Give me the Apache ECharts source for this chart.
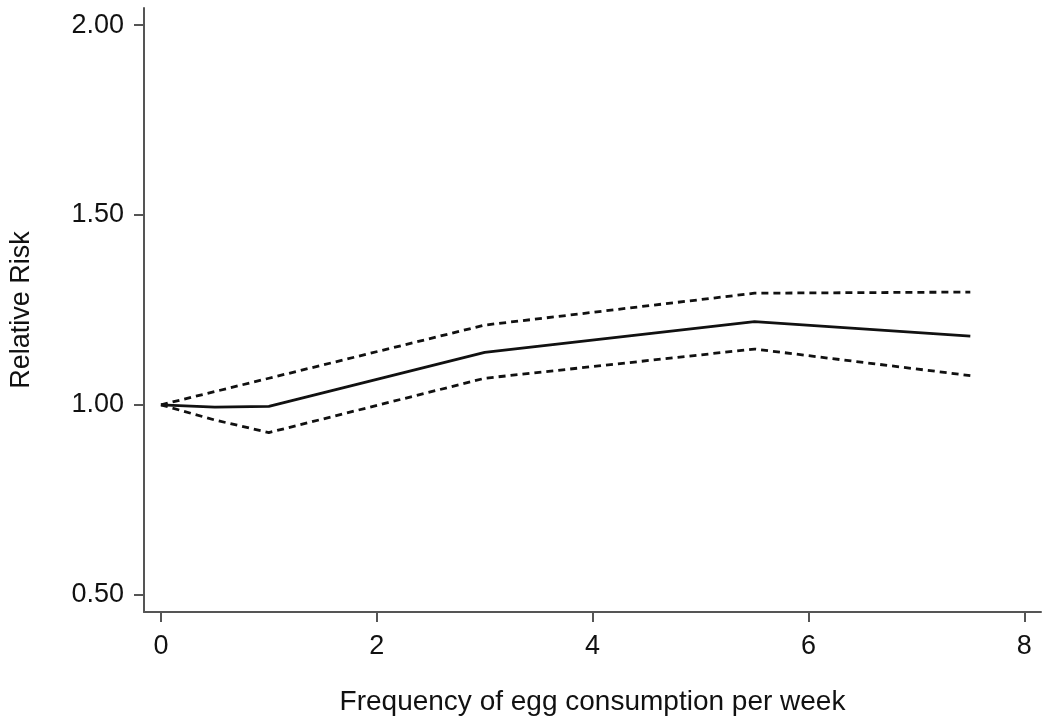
<!DOCTYPE html>
<html>
<head>
<meta charset="utf-8">
<script src="https://cdn.jsdelivr.net/npm/echarts@6/dist/echarts.min.js"></script>
<style>
  html, body { margin: 0; padding: 0; background: #fff; }
  #chart { width: 1050px; height: 724px; }
</style>
</head>
<body>
<div id="chart"></div>
<script>
// egg consumption (times/week) and relative risk with 95% CI
var eggsPerWeek = [0, 0.5, 1, 3, 5.5, 7.5];
var rrMain  = [1.00, 0.994, 0.996, 1.138, 1.219, 1.181];
var rrUpper = [1.00, 1.035, 1.070, 1.210, 1.294, 1.297];
var rrLower = [1.00, 0.960, 0.927, 1.070, 1.147, 1.077];

var xTicks = [0, 2, 4, 6, 8];
var yTicks = [0.5, 1.0, 1.5, 2.0];

function pairs(ys) {
    var out = [];
    for (var i = 0; i < eggsPerWeek.length; i++) {
        out.push([eggsPerWeek[i], ys[i]]);
    }
    return out;
}

var font = 'Liberation Sans, Arial, sans-serif';
var axisColor = '#555';

var myChart = echarts.init(document.getElementById('chart'));

var option = {
    animation: false,
    backgroundColor: '#fff',
    grid: { left: 143, right: 9, top: 8, bottom: 112 },
    xAxis: {
        type: 'value',
        min: -0.157,
        max: 8.155,
        name: 'Frequency of egg consumption per week',
        nameLocation: 'middle',
        nameGap: 76,
        nameTextStyle: { color: '#111', fontSize: 28, fontFamily: font },
        axisLine: { show: true, onZero: false, lineStyle: { color: axisColor, width: 2 } },
        axisTick: { show: true, inside: false, length: 10, customValues: xTicks, lineStyle: { color: axisColor, width: 2 } },
        axisLabel: { customValues: xTicks, margin: 21, color: '#111', fontSize: 27, fontFamily: font },
        splitLine: { show: false }
    },
    yAxis: {
        type: 'value',
        min: 0.4545,
        max: 2.045,
        name: 'Relative Risk',
        nameLocation: 'middle',
        nameGap: 109,
        nameTextStyle: { color: '#111', fontSize: 27, fontFamily: font },
        axisLine: { show: true, onZero: false, lineStyle: { color: axisColor, width: 2 } },
        axisTick: { show: true, inside: false, length: 10, customValues: yTicks, lineStyle: { color: axisColor, width: 2 } },
        axisLabel: {
            customValues: yTicks,
            margin: 20,
            color: '#111',
            fontSize: 27,
            fontFamily: font,
            formatter: function (v) { return v.toFixed(2); }
        },
        splitLine: { show: false }
    },
    series: [
        {
            type: 'line',
            data: pairs(rrUpper),
            showSymbol: false,
            lineStyle: { color: '#111', width: 2.8, type: [7, 5] }
        },
        {
            type: 'line',
            data: pairs(rrMain),
            showSymbol: false,
            lineStyle: { color: '#111', width: 2.8, type: 'solid' }
        },
        {
            type: 'line',
            data: pairs(rrLower),
            showSymbol: false,
            lineStyle: { color: '#111', width: 2.8, type: [7, 5] }
        }
    ]
};

myChart.setOption(option);
</script>
</body>
</html>
